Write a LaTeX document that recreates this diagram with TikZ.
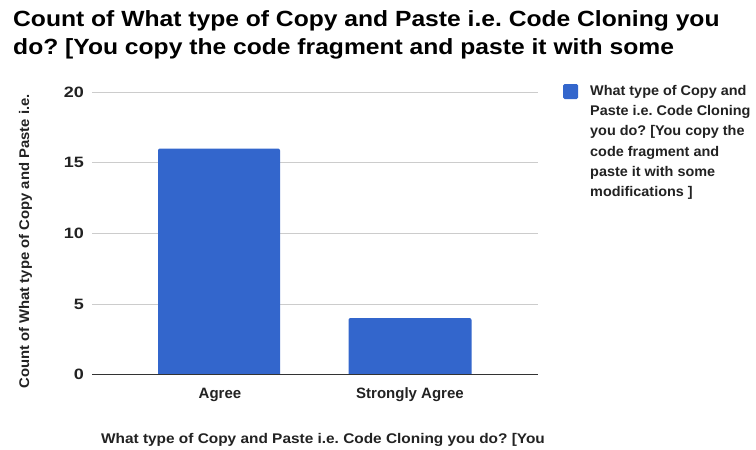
\documentclass[tikz,border=0pt]{standalone}
\usepackage{fontspec}
\setmainfont{Liberation Sans}
\newfontfamily\titlefont{Liberation Sans}[FakeStretch=1.12]
\newfontfamily\tickfont{Liberation Sans}[FakeStretch=1.2]
\newfontfamily\catfont{Liberation Sans}[FakeStretch=1.0]
\newfontfamily\axisfont{Liberation Sans}[FakeStretch=1.1]
\newfontfamily\yaxisfont{Liberation Sans}[FakeStretch=1.06]
\newfontfamily\legendfont{Liberation Sans}[FakeStretch=1.03]
\definecolor{barblue}{HTML}{3366CC}
\definecolor{gridgrey}{HTML}{CCCCCC}
\definecolor{axisgrey}{HTML}{333333}
\definecolor{labelgrey}{HTML}{222222}
\begin{document}
\frenchspacing
\begin{tikzpicture}[x=1pt,y=-1pt,
  charttitle/.style={anchor=base west,inner sep=0pt,font=\titlefont\bfseries\fontsize{22}{26}\selectfont,text=black},
  ticklabel/.style={anchor=east,inner sep=0pt,font=\tickfont\bfseries\fontsize{15}{17}\selectfont,text=labelgrey},
  catlabel/.style={anchor=base,inner sep=0pt,font=\catfont\bfseries\fontsize{15}{17}\selectfont,text=labelgrey},
  axistitle/.style={anchor=base,inner sep=0pt,font=\axisfont\bfseries\fontsize{14}{16}\selectfont,text=labelgrey},
  yaxistitle/.style={anchor=base,inner sep=0pt,font=\yaxisfont\bfseries\fontsize{14}{16}\selectfont,text=labelgrey},
  legendtext/.style={anchor=north west,inner sep=0pt,align=left,font=\legendfont\bfseries\fontsize{14}{20.3}\selectfont,text=labelgrey},
  gridline/.style={draw=gridgrey,line width=1pt},
  baseline/.style={draw=axisgrey,line width=1pt},
  bar/.style={fill=barblue}]
\useasboundingbox[fill=white] (0,0) rectangle (756,450);

% title
\node[charttitle] (t1) at (13,26.5) {Count of What type of Copy and Paste i.e. Code Cloning you};
\node[charttitle] (t2) at (13,54.5) {do? [You copy the code fragment and paste it with some};

% gridlines and value labels
\foreach \v/\y in {20/92,15/162,10/233,5/304}{
  \coordinate (gl\v) at (92,\y);
  \coordinate (gr\v) at (538,\y);
  \draw[gridline] (gl\v) -- (gr\v);
  \node[ticklabel] (tick\v) at (84,\y) {\v};
}
\node[ticklabel] (tick0) at (84,374.5) {0};

% bars
\fill[bar,rounded corners=2pt] (158,380) rectangle (280,148.5);
\fill[bar,rounded corners=2pt] (348.5,380) rectangle (471.5,318);
\fill[white] (150,375) rectangle (480,382);

% baseline
\coordinate (b0) at (92,374.5);
\coordinate (b1) at (538,374.5);
\draw[baseline] (b0) -- (b1);

% category labels
\node[catlabel] (c1) at (220,398) {Agree};
\node[catlabel] (c2) at (410,398) {Strongly Agree};

% axis titles
\node[axistitle] (xt) at (323,443) {What type of Copy and Paste i.e. Code Cloning you do? [You};
\node[yaxistitle,rotate=90] (yt) at (29,241.5) {Count of What type of Copy and Paste i.e.};

% legend
\fill[barblue,rounded corners=1.5pt] (563,84) rectangle (578,99);
\node[legendtext] (lg) at (590,85) {What type of Copy and\\Paste i.e. Code Cloning\\you do? [You copy the\\code fragment and\\paste it with some\\modifications ]};
\end{tikzpicture}
\end{document}
